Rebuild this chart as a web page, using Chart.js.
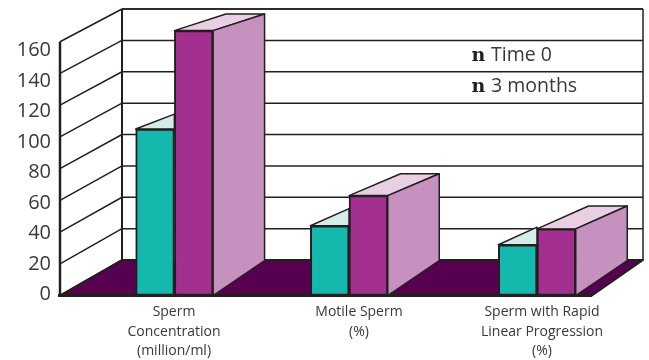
<!DOCTYPE html>
<html>
<head>
<meta charset="utf-8">
<title>Sperm parameters at time 0 and 3 months</title>
<script src="https://cdn.jsdelivr.net/npm/chart.js@4"></script>
<style>
  html, body { margin: 0; padding: 0; background: #fff; }
  canvas { display: block; }
</style>
</head>
<body>
<canvas id="chart" width="649" height="360"></canvas>
<script>
const categories = [
  ["Sperm", "Concentration", "(million/ml)"],
  ["Motile Sperm", "(%)"],
  ["Sperm with Rapid", "Linear Progression", "(%)"],
];
const seriesNames = ["Time 0", "3 months"];
const timeZero = [105, 44, 32];
const threeMonths = [167, 63, 42];
const yTicks = [0, 20, 40, 60, 80, 100, 120, 140, 160];

// the groups and their captions are not evenly spaced on the x axis
const groupAt = [0.645, 1.63, 2.69];
const captionAt = [0.643, 1.686, 2.718];

const INK = "#231f20";
const TEXT = "#3a3839";
const DEPTH_X = 51.5;
const DEPTH_Y = 35;
const FRONT_LEFT = 60;
const BACK_LEFT = 122;
const BACK_RIGHT = 643;
const BACK_BASE = 260;
const BACK_TOP = 9;

function backY(value) {
  return BACK_BASE - ((BACK_BASE - BACK_TOP) * value) / 160;
}

function polygon(ctx, points, fill, width) {
  ctx.beginPath();
  points.forEach(([x, y], i) => (i ? ctx.lineTo(x, y) : ctx.moveTo(x, y)));
  ctx.closePath();
  if (fill) {
    ctx.fillStyle = fill;
    ctx.fill();
  }
  ctx.lineWidth = width;
  ctx.strokeStyle = INK;
  ctx.stroke();
}

function line(ctx, x1, y1, x2, y2, width) {
  ctx.beginPath();
  ctx.moveTo(x1, y1);
  ctx.lineTo(x2, y2);
  ctx.lineWidth = width;
  ctx.strokeStyle = INK;
  ctx.stroke();
}

// walls, floor and the box sides behind the bar fronts
const boxPlugin = {
  id: "box",
  beforeDatasetsDraw(chart) {
    const { ctx, chartArea, scales } = chart;
    const base = scales.y.getPixelForValue(0);
    ctx.save();
    ctx.lineJoin = "round";

    yTicks.forEach((value) => {
      const front = scales.y.getPixelForValue(value);
      const back = backY(value);
      line(ctx, FRONT_LEFT, front, BACK_LEFT, back, 1.5);
      if (value) line(ctx, BACK_LEFT, back, BACK_RIGHT, back, 1.5);
    });
    line(ctx, BACK_LEFT, BACK_TOP, BACK_RIGHT, BACK_TOP, 1.5);
    line(ctx, BACK_LEFT, BACK_TOP, BACK_LEFT, BACK_BASE, 2);
    line(ctx, BACK_RIGHT, BACK_TOP, BACK_RIGHT, BACK_BASE, 1.5);

    polygon(
      ctx,
      [
        [FRONT_LEFT, base],
        [BACK_LEFT, BACK_BASE],
        [BACK_RIGHT, BACK_BASE],
        [chartArea.right, base],
      ],
      "#570050",
      2
    );

    // the taller bar hides all of the first bar's box but a sliver of its top
    chart.getDatasetMeta(0).data.forEach((bar, i) => {
      const left = bar.x - bar.width / 2;
      const right = bar.x + bar.width / 2;
      const rise = 25 - 0.05 * timeZero[i];
      polygon(
        ctx,
        [
          [left, bar.y],
          [right, bar.y - (rise * bar.width) / DEPTH_X],
          [right, bar.y],
        ],
        "#d6ece8",
        1.5
      );
    });

    chart.getDatasetMeta(1).data.forEach((bar, i) => {
      const left = bar.x - bar.width / 2;
      const right = bar.x + bar.width / 2;
      // the top face rises less on taller bars
      const rise = 25 - 0.05 * threeMonths[i];
      polygon(
        ctx,
        [
          [left, bar.y],
          [left + DEPTH_X, bar.y - rise],
          [right + DEPTH_X, bar.y - rise],
          [right, bar.y],
        ],
        "#e8cfe4",
        1.5
      );
      polygon(
        ctx,
        [
          [right, bar.y],
          [right + DEPTH_X, bar.y - rise],
          [right + DEPTH_X, base - DEPTH_Y],
          [right, base],
        ],
        "#c791bf",
        1.5
      );
    });
    ctx.restore();
  },
  afterDatasetsDraw(chart) {
    const { ctx, chartArea, scales } = chart;
    const base = scales.y.getPixelForValue(0);
    ctx.save();
    line(ctx, FRONT_LEFT, scales.y.getPixelForValue(160), FRONT_LEFT, base + 1, 2.5);
    line(ctx, FRONT_LEFT - 2, base, chartArea.right, base, 3);

    // key text, top right of the back wall
    ctx.textBaseline = "alphabetic";
    seriesNames.forEach((name, i) => {
      const y = 61 + i * 31;
      ctx.fillStyle = INK;
      ctx.font = 'bold 19px "DejaVu Serif"';
      ctx.fillText("n", 471.5, y);
      ctx.fillStyle = TEXT;
      ctx.font = '19.5px "Open Sans"';
      ctx.fillText(name, 491, y);
    });
    ctx.restore();
  },
};

new Chart(document.getElementById("chart"), {
  type: "bar",
  data: {
    datasets: [
      {
        label: seriesNames[0],
        data: timeZero.map((y, i) => ({ x: groupAt[i], y })),
        backgroundColor: "#14b8ad",
      },
      {
        label: seriesNames[1],
        data: threeMonths.map((y, i) => ({ x: groupAt[i], y })),
        backgroundColor: "#a3308f",
      },
    ],
  },
  options: {
    responsive: false,
    animation: false,
    layout: { padding: { top: 10, right: 57 } },
    datasets: {
      bar: {
        barThickness: 38.7,
        borderColor: INK,
        borderWidth: 2,
        borderSkipped: false,
      },
    },
    plugins: {
      legend: { display: false },
      tooltip: { enabled: false },
    },
    scales: {
      x: {
        type: "linear",
        offset: false,
        min: 0,
        max: 3,
        afterBuildTicks: (scale) => {
          scale.ticks = captionAt.map((value) => ({ value }));
        },
        afterFit: (scale) => {
          scale.height = 64.5;
          scale.paddingLeft = 0;
          scale.paddingRight = 0;
        },
        grid: { display: false },
        border: { display: false },
        ticks: {
          autoSkip: false,
          maxRotation: 0,
          padding: -1,
          color: TEXT,
          font: { family: '"Open Sans"', size: 14, lineHeight: 1.4 },
          callback: (value, i) => categories[i],
        },
      },
      y: {
        display: false,
        min: 0,
        max: 180,
      },
      // labels run slightly tighter than the grid, so they get their own axis
      yLabels: {
        position: "left",
        min: -0.7,
        max: 186.5,
        afterBuildTicks: (scale) => {
          scale.ticks = yTicks.map((value) => ({ value }));
        },
        afterFit: (scale) => {
          scale.width = 60;
          scale.paddingTop = 0;
          scale.paddingBottom = 0;
        },
        grid: { display: false },
        border: { display: false },
        ticks: {
          padding: 1,
          color: TEXT,
          font: { family: '"Open Sans"', size: 20 },
        },
      },
    },
  },
  plugins: [boxPlugin],
});
</script>
</body>
</html>
